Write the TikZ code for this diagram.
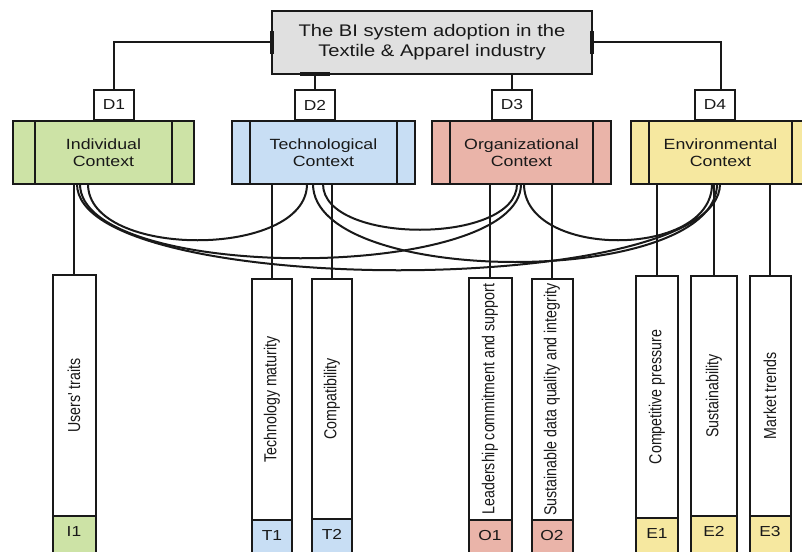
\documentclass[tikz,border=0pt]{standalone}
\usepackage{graphicx}
\usepackage{fontspec}
\setmainfont{Liberation Sans}[FakeStretch=1.2]
\newfontfamily\vfont{Liberation Sans}
\definecolor{topgray}{RGB}{224,224,224}
\definecolor{cgreen}{RGB}{205,227,166}
\definecolor{cblue}{RGB}{200,222,244}
\definecolor{cred}{RGB}{234,180,169}
\definecolor{cyellow}{RGB}{246,232,160}
\definecolor{ink}{RGB}{25,25,25}
\newcommand{\vtext}[1]{\rotatebox{90}{\vfont\fontsize{14.2}{16}\selectfont\scalebox{1}[1.22]{#1}}}
\begin{document}
\begin{tikzpicture}[x=1pt,y=-1pt,line width=2pt,
  box/.style={draw=ink, line width=2pt, inner sep=0pt, outer sep=0pt, align=center, text=ink},
  topbox/.style={box, fill=topgray, minimum width=320pt, minimum height=63pt, font=\fontsize{16.8}{20}\selectfont},
  dbox/.style={box, fill=white, minimum width=40pt, minimum height=30pt, font=\fontsize{14.5}{17}\selectfont},
  ctxbox/.style={box, minimum height=63pt, font=\fontsize{14.8}{17}\selectfont},
  bars/.style={path picture={
     \draw[ink,line width=2pt] ([xshift=#1]path picture bounding box.north west) -- ([xshift=#1]path picture bounding box.south west);
     \draw[ink,line width=2pt] ([xshift=-#1]path picture bounding box.north east) -- ([xshift=-#1]path picture bounding box.south east);}},
  factor/.style={box, fill=white},
  codebox/.style={box, minimum height=44pt, text height=10pt, text depth=14pt, font=\fontsize{14.5}{17}\selectfont},
  link/.style={draw=ink, line width=2pt},
  stub/.style={draw=ink, line width=3.5pt}
]
\clip (0,0) rectangle (802,551);
\fill[white] (0,0) rectangle (802,551);

% top
\node[topbox] (top) at (432,42.5) {The BI system adoption in the\\Textile \& Apparel industry};

% dimension tags
\node[dbox] (D1) at (114,105) {D1};
\node[dbox] (D2) at (315,105) {D2};
\node[dbox] (D3) at (512,105) {D3};
\node[dbox] (D4) at (715,105) {D4};

% contexts
\node[ctxbox, fill=cgreen, minimum width=181pt, bars=22pt] (ctxI) at (103.5,152.5) {Individual\\Context};
\node[ctxbox, fill=cblue, minimum width=183pt, bars=18pt] (ctxT) at (323.5,152.5) {Technological\\Context};
\node[ctxbox, fill=cred, minimum width=179pt, bars=18pt] (ctxO) at (521.5,152.5) {Organizational\\Context};
\node[ctxbox, fill=cyellow, minimum width=179pt, bars=18pt] (ctxE) at (720.5,152.5) {Environmental\\Context};

% factors
\node[factor, minimum width=43pt, minimum height=241pt] (fI1) at (74,395.5) {\vtext{Users' traits}};
\node[factor, minimum width=40pt, minimum height=241pt] (fT1) at (272,399.5) {\vtext{Technology maturity}};
\node[factor, minimum width=40pt, minimum height=240pt] (fT2) at (332,399) {\vtext{Compatibility}};
\node[factor, minimum width=43pt, minimum height=242pt] (fO1) at (490,399) {\vtext{Leadership commitment and support}};
\node[factor, minimum width=41pt, minimum height=241pt] (fO2) at (552,399.5) {\vtext{Sustainable data quality and integrity}};
\node[factor, minimum width=42pt, minimum height=242pt] (fE1) at (657,397) {\vtext{Competitive pressure}};
\node[factor, minimum width=46pt, minimum height=240pt] (fE2) at (714,396) {\vtext{Sustainability}};
\node[factor, minimum width=41pt, minimum height=240pt] (fE3) at (770,396) {\vtext{Market trends}};

% codes
\node[codebox, fill=cgreen, minimum width=43pt, anchor=north] (cI1) at (fI1.south) {I1};
\node[codebox, fill=cblue, minimum width=40pt, anchor=north] (cT1) at (fT1.south) {T1};
\node[codebox, fill=cblue, minimum width=40pt, anchor=north] (cT2) at (fT2.south) {T2};
\node[codebox, fill=cred, minimum width=43pt, anchor=north] (cO1) at (fO1.south) {O1};
\node[codebox, fill=cred, minimum width=41pt, anchor=north] (cO2) at (fO2.south) {O2};
\node[codebox, fill=cyellow, minimum width=42pt, anchor=north] (cE1) at (fE1.south) {E1};
\node[codebox, fill=cyellow, minimum width=46pt, anchor=north] (cE2) at (fE2.south) {E2};
\node[codebox, fill=cyellow, minimum width=41pt, anchor=north] (cE3) at (fE3.south) {E3};

% top connectors
\draw[link] (top.west) -| (D1.north);
\draw[link] (D2.north) -- (D2.north |- top.south);
\draw[link] (D3.north) -- (D3.north |- top.south);
\draw[link] (top.east) -| ([xshift=6pt]D4.north);
\coordinate (mk) at (D2.north |- top.south);
\draw[stub] ([yshift=-11.5pt]top.west) -- ([yshift=11.5pt]top.west);
\draw[stub] ([yshift=-11.5pt]top.east) -- ([yshift=11.5pt]top.east);
\draw[stub] ([xshift=-15pt]mk) -- ([xshift=15pt]mk);

% factor connectors
\draw[link] (fI1.north) -- (fI1.north |- ctxI.south);
\draw[link] (fT1.north) -- (fT1.north |- ctxT.south);
\draw[link] (fT2.north) -- (fT2.north |- ctxT.south);
\draw[link] (fO1.north) -- (fO1.north |- ctxO.south);
\draw[link] (fO2.north) -- (fO2.north |- ctxO.south);
\draw[link] (fE1.north) -- (fE1.north |- ctxE.south);
\draw[link] (fE2.north) -- (fE2.north |- ctxE.south);
\draw[link] (fE3.north) -- (fE3.north |- ctxE.south);

% context interrelations
\draw[link] ([xshift=-15.5pt]ctxI.south) .. controls +(0,75) and +(0,75) .. ([xshift=-16.5pt]ctxT.south);
\draw[link] ([xshift=-23.5pt]ctxI.south) .. controls +(0,99) and +(0,99) .. ([xshift=-0.5pt]ctxO.south);
\draw[link] ([xshift=-26.5pt]ctxI.south) .. controls +(0,115) and +(0,115) .. ([xshift=-0.5pt]ctxE.south);
\draw[link] ([xshift=-0.5pt]ctxT.south) .. controls +(0,61) and +(0,61) .. ([xshift=-4.5pt]ctxO.south);
\draw[link] ([xshift=-10.5pt]ctxT.south) .. controls +(0,104) and +(0,104) .. ([xshift=-3.5pt]ctxE.south);
\draw[link] ([xshift=2.5pt]ctxO.south) .. controls +(0,75) and +(0,75) .. ([xshift=-8.5pt]ctxE.south);
\end{tikzpicture}
\end{document}
